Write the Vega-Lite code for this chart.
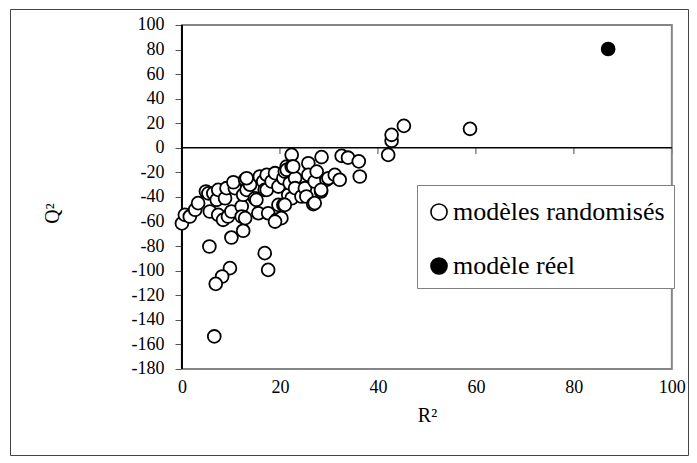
{
  "$schema": "https://vega.github.io/schema/vega-lite/v6.json",
  "width": 678,
  "height": 446,
  "autosize": {"type": "none"},
  "padding": {"left": 10, "top": 9, "right": 9, "bottom": 8},
  "background": "white",
  "config": {
    "view": {"stroke": "#444444", "strokeWidth": 1},
    "font": "Liberation Serif"
  },
  "datasets": {
    "pts": [
      {"R2": 0.0, "Q2": -61.5, "type": "modèles randomisés"},
      {"R2": 0.6, "Q2": -54.5, "type": "modèles randomisés"},
      {"R2": 1.6, "Q2": -55.9, "type": "modèles randomisés"},
      {"R2": 2.7, "Q2": -50.4, "type": "modèles randomisés"},
      {"R2": 3.3, "Q2": -45.0, "type": "modèles randomisés"},
      {"R2": 4.9, "Q2": -35.5, "type": "modèles randomisés"},
      {"R2": 5.4, "Q2": -37.0, "type": "modèles randomisés"},
      {"R2": 5.7, "Q2": -51.8, "type": "modèles randomisés"},
      {"R2": 6.4, "Q2": -37.0, "type": "modèles randomisés"},
      {"R2": 7.1, "Q2": -42.3, "type": "modèles randomisés"},
      {"R2": 7.4, "Q2": -54.5, "type": "modèles randomisés"},
      {"R2": 7.4, "Q2": -34.2, "type": "modèles randomisés"},
      {"R2": 8.8, "Q2": -41.0, "type": "modèles randomisés"},
      {"R2": 9.1, "Q2": -32.8, "type": "modèles randomisés"},
      {"R2": 8.4, "Q2": -58.6, "type": "modèles randomisés"},
      {"R2": 9.4, "Q2": -55.9, "type": "modèles randomisés"},
      {"R2": 10.1, "Q2": -51.8, "type": "modèles randomisés"},
      {"R2": 10.8, "Q2": -32.8, "type": "modèles randomisés"},
      {"R2": 10.5, "Q2": -28.0, "type": "modèles randomisés"},
      {"R2": 12.2, "Q2": -47.7, "type": "modèles randomisés"},
      {"R2": 12.2, "Q2": -55.9, "type": "modèles randomisés"},
      {"R2": 12.5, "Q2": -38.2, "type": "modèles randomisés"},
      {"R2": 12.5, "Q2": -67.5, "type": "modèles randomisés"},
      {"R2": 10.1, "Q2": -73.0, "type": "modèles randomisés"},
      {"R2": 12.9, "Q2": -26.0, "type": "modèles randomisés"},
      {"R2": 13.2, "Q2": -34.2, "type": "modèles randomisés"},
      {"R2": 13.9, "Q2": -30.0, "type": "modèles randomisés"},
      {"R2": 14.9, "Q2": -41.0, "type": "modèles randomisés"},
      {"R2": 15.2, "Q2": -42.3, "type": "modèles randomisés"},
      {"R2": 15.6, "Q2": -53.2, "type": "modèles randomisés"},
      {"R2": 15.9, "Q2": -23.3, "type": "modèles randomisés"},
      {"R2": 16.6, "Q2": -27.4, "type": "modèles randomisés"},
      {"R2": 16.9, "Q2": -34.2, "type": "modèles randomisés"},
      {"R2": 17.3, "Q2": -22.0, "type": "modèles randomisés"},
      {"R2": 17.3, "Q2": -34.2, "type": "modèles randomisés"},
      {"R2": 17.6, "Q2": -53.2, "type": "modèles randomisés"},
      {"R2": 18.3, "Q2": -27.4, "type": "modèles randomisés"},
      {"R2": 19.0, "Q2": -20.6, "type": "modèles randomisés"},
      {"R2": 19.3, "Q2": -58.6, "type": "modèles randomisés"},
      {"R2": 19.7, "Q2": -31.5, "type": "modèles randomisés"},
      {"R2": 19.7, "Q2": -46.4, "type": "modèles randomisés"},
      {"R2": 20.3, "Q2": -57.2, "type": "modèles randomisés"},
      {"R2": 20.7, "Q2": -24.7, "type": "modèles randomisés"},
      {"R2": 20.7, "Q2": -46.4, "type": "modèles randomisés"},
      {"R2": 21.0, "Q2": -19.3, "type": "modèles randomisés"},
      {"R2": 21.4, "Q2": -15.2, "type": "modèles randomisés"},
      {"R2": 21.4, "Q2": -17.9, "type": "modèles randomisés"},
      {"R2": 21.7, "Q2": -38.2, "type": "modèles randomisés"},
      {"R2": 22.0, "Q2": -28.8, "type": "modèles randomisés"},
      {"R2": 22.4, "Q2": -5.7, "type": "modèles randomisés"},
      {"R2": 22.4, "Q2": -15.2, "type": "modèles randomisés"},
      {"R2": 22.4, "Q2": -41.0, "type": "modèles randomisés"},
      {"R2": 23.1, "Q2": -24.7, "type": "modèles randomisés"},
      {"R2": 23.1, "Q2": -32.8, "type": "modèles randomisés"},
      {"R2": 24.4, "Q2": -39.6, "type": "modèles randomisés"},
      {"R2": 25.1, "Q2": -32.8, "type": "modèles randomisés"},
      {"R2": 25.4, "Q2": -39.6, "type": "modèles randomisés"},
      {"R2": 25.8, "Q2": -12.5, "type": "modèles randomisés"},
      {"R2": 25.8, "Q2": -22.0, "type": "modèles randomisés"},
      {"R2": 26.8, "Q2": -45.8, "type": "modèles randomisés"},
      {"R2": 27.1, "Q2": -27.4, "type": "modèles randomisés"},
      {"R2": 27.5, "Q2": -19.3, "type": "modèles randomisés"},
      {"R2": 28.4, "Q2": -35.5, "type": "modèles randomisés"},
      {"R2": 28.5, "Q2": -7.5, "type": "modèles randomisés"},
      {"R2": 29.5, "Q2": -26.0, "type": "modèles randomisés"},
      {"R2": 29.9, "Q2": -24.7, "type": "modèles randomisés"},
      {"R2": 31.2, "Q2": -22.0, "type": "modèles randomisés"},
      {"R2": 32.2, "Q2": -26.0, "type": "modèles randomisés"},
      {"R2": 32.6, "Q2": -6.5, "type": "modèles randomisés"},
      {"R2": 33.9, "Q2": -8.0, "type": "modèles randomisés"},
      {"R2": 36.1, "Q2": -11.0, "type": "modèles randomisés"},
      {"R2": 36.3, "Q2": -23.3, "type": "modèles randomisés"},
      {"R2": 42.1, "Q2": -5.7, "type": "modèles randomisés"},
      {"R2": 42.8, "Q2": 5.7, "type": "modèles randomisés"},
      {"R2": 42.8, "Q2": 10.6, "type": "modèles randomisés"},
      {"R2": 45.3, "Q2": 17.9, "type": "modèles randomisés"},
      {"R2": 58.8, "Q2": 15.5, "type": "modèles randomisés"},
      {"R2": 5.6, "Q2": -80.3, "type": "modèles randomisés"},
      {"R2": 16.9, "Q2": -85.7, "type": "modèles randomisés"},
      {"R2": 17.6, "Q2": -99.3, "type": "modèles randomisés"},
      {"R2": 9.8, "Q2": -97.9, "type": "modèles randomisés"},
      {"R2": 8.2, "Q2": -104.7, "type": "modèles randomisés"},
      {"R2": 6.9, "Q2": -110.7, "type": "modèles randomisés"},
      {"R2": 6.6, "Q2": -153.5, "type": "modèles randomisés"},
      {"R2": 12.9, "Q2": -57.2, "type": "modèles randomisés"},
      {"R2": 13.2, "Q2": -24.7, "type": "modèles randomisés"},
      {"R2": 19.0, "Q2": -60.0, "type": "modèles randomisés"},
      {"R2": 21.0, "Q2": -46.4, "type": "modèles randomisés"},
      {"R2": 28.4, "Q2": -34.2, "type": "modèles randomisés"},
      {"R2": 27.1, "Q2": -45.0, "type": "modèles randomisés"},
      {"R2": 22.7, "Q2": -15.2, "type": "modèles randomisés"},
      {"R2": 87.0, "Q2": 80.5, "type": "modèle réel"}
    ],
    "ticks": [{"t": 20}, {"t": 40}, {"t": 60}, {"t": 80}, {"t": 100}]
  },
  "layer": [
    {
      "data": {"values": [{}]},
      "mark": {"type": "rect", "fill": "white", "stroke": "#868686", "strokeWidth": 2},
      "encoding": {
        "x": {
          "datum": 0, "type": "quantitative",
          "scale": {"domain": [-35.1, 103.3], "nice": false, "zero": false},
          "axis": {
            "values": [0, 20, 40, 60, 80, 100], "tickCount": 20, "domain": false, "ticks": false, "grid": false,
            "labelColor": "black", "labelOverlap": false,
            "labelFontSize": 18, "labelPadding": 7, "offset": -84,
            "labelExpr": "'' + datum.value",
            "title": "R²", "titleFontWeight": "normal", "titleColor": "black",
            "titleFontSize": 20, "titleX": 417, "titlePadding": 9
          }
        },
        "x2": {"datum": 100},
        "y": {
          "datum": -180, "type": "quantitative",
          "scale": {"domain": [-250, 113.02], "nice": false, "zero": false},
          "axis": {
            "values": [-180, -160, -140, -120, -100, -80, -60, -40, -20, 0, 20, 40, 60, 80, 100],
            "tickCount": 30,
            "domain": false, "ticks": true, "tickSize": 7, "tickColor": "#555555", "tickWidth": 1, "grid": false,
            "labelColor": "black", "labelOverlap": false,
            "labelFontSize": 18, "labelPadding": 11, "offset": -172,
            "labelExpr": "'' + datum.value",
            "title": "Q²", "titleFontWeight": "normal", "titleColor": "black",
            "titleFontSize": 20, "titleX": -120, "titleY": 204, "titleAngle": -90
          }
        },
        "y2": {"datum": 100}
      }
    },
    {
      "data": {"name": "ticks"},
      "mark": {"type": "rule", "stroke": "#868686", "strokeWidth": 1.5},
      "encoding": {
        "x": {"field": "t", "type": "quantitative"},
        "y": {"datum": 0, "type": "quantitative"},
        "y2": {"datum": -5}
      }
    },
    {
      "data": {"values": [{}]},
      "mark": {"type": "rule", "stroke": "black", "strokeWidth": 1.5},
      "encoding": {
        "x": {"datum": 0, "type": "quantitative"},
        "x2": {"datum": 100},
        "y": {"datum": 0, "type": "quantitative"}
      }
    },
    {
      "data": {"values": [{}]},
      "mark": {"type": "rule", "stroke": "black", "strokeWidth": 2},
      "encoding": {
        "x": {"datum": 0, "type": "quantitative"},
        "y": {"datum": -180, "type": "quantitative"},
        "y2": {"datum": 100}
      }
    },
    {
      "data": {"name": "pts"},
      "mark": {"type": "point", "shape": "circle", "filled": true, "stroke": "black", "strokeWidth": 1.8, "size": 165, "opacity": 1},
      "encoding": {
        "x": {"field": "R2", "type": "quantitative"},
        "y": {"field": "Q2", "type": "quantitative"},
        "fill": {
          "field": "type", "type": "nominal",
          "scale": {"domain": ["modèles randomisés", "modèle réel"], "range": ["white", "black"]},
          "legend": {
            "orient": "none", "legendX": 407, "legendY": 176,
            "title": " ", "titleFontSize": 5, "titlePadding": 0,
            "labelColor": "black",
            "labelFontSize": 26, "labelLimit": 400, "labelOffset": 1,
            "symbolType": "circle", "symbolSize": 260, "symbolStrokeColor": "black", "symbolStrokeWidth": 1.6,
            "strokeColor": "#808080", "fillColor": "white", "padding": 9, "rowPadding": 28
          }
        }
      }
    }
  ]
}
